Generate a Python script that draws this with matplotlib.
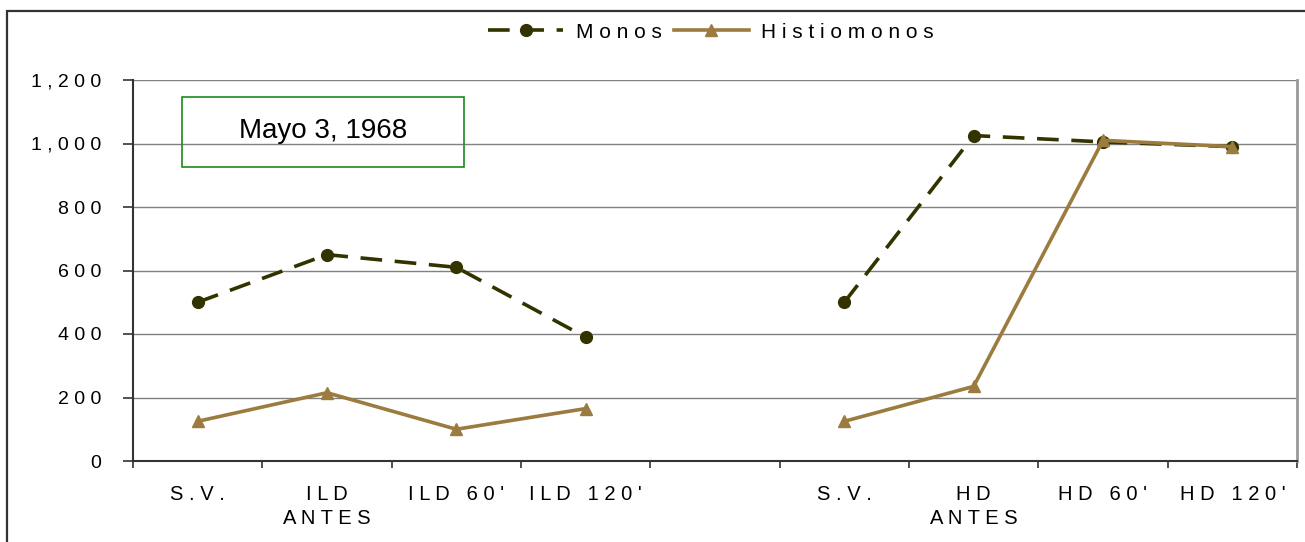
import numpy as np
import matplotlib
matplotlib.use("Agg")
import matplotlib.pyplot as plt
from matplotlib.ticker import FuncFormatter, FixedLocator
from matplotlib.patches import Rectangle

categories = ["S.V.", "ILD\nANTES", "ILD 60'", "ILD 120'", "",
              "S.V.", "HD\nANTES", "HD 60'", "HD 120'"]
monos = [500, 650, 610, 390, np.nan, 500, 1025, 1005, 990]
histiomonos = [125, 215, 100, 165, np.nan, 125, 235, 1010, 990]
series_names = ["Monos", "Histiomonos"]
annotation = "Mayo 3, 1968"
yticks = [0, 200, 400, 600, 800, 1000, 1200]

plt.rcParams['font.family'] = ['Liberation Sans', 'DejaVu Sans']


def spaced(s):
    return "\n".join(" ".join(list(line)) for line in s.split("\n"))


fig = plt.figure(figsize=(13.05, 5.42), dpi=100)
ax = fig.add_axes([133/1305, 1-461/542, (1297-133)/1305, (461-80)/542])

x = np.arange(len(categories))
c_monos = "#333300"
c_hist = "#9c7b3e"

ax.plot(x, monos, color=c_monos, lw=2.6, ls=(0, (6, 3.5)), marker='o',
        markersize=8.5, markerfacecolor=c_monos, markeredgecolor=c_monos,
        label=spaced(series_names[0]), zorder=3)
ax.plot(x, histiomonos, color=c_hist, lw=2.6, ls='-', marker='^',
        markersize=8.5, markerfacecolor=c_hist, markeredgecolor=c_hist,
        label=spaced(series_names[1]), zorder=4)

ax.set_xlim(-0.5, len(categories) - 0.5)
ax.set_ylim(0, 1200)
ax.set_yticks(yticks)
ax.yaxis.set_major_formatter(FuncFormatter(lambda v, p: spaced(f"{int(v):,}")))
ax.grid(axis='y', color='#808080', lw=1.0)
ax.set_axisbelow(True)

ax.xaxis.set_major_locator(FixedLocator(np.arange(-0.5, len(categories), 1.0)))
ax.xaxis.set_major_formatter(FuncFormatter(lambda v, p: ""))
ax.xaxis.set_minor_locator(FixedLocator(x))
ax.set_xticklabels([spaced(c) for c in categories], minor=True)
ax.tick_params(axis='x', which='major', length=5, width=1.2, color='#333333', direction='out')
ax.tick_params(axis='x', which='minor', length=0, pad=17, labelsize=14.5)
for t in ax.get_xticklabels(minor=True):
    t.set_linespacing(1.35)
    t.set_verticalalignment('top')
ax.tick_params(axis='y', length=7, width=1.2, color='#333333', pad=16, labelsize=14)

for s in ['left', 'bottom']:
    ax.spines[s].set_color('#333333')
    ax.spines[s].set_linewidth(1.5)
ax.spines['top'].set_visible(False)
ax.spines['right'].set_color('#999999')
ax.spines['right'].set_linewidth(2)

box = Rectangle((182/1305, 1-167/542), (464-182)/1305, (167-97)/542,
                transform=fig.transFigure, fill=False, ec='#1a8a1a', lw=1.2, zorder=5)
fig.patches.append(box)
fig.text((182+464)/2/1305, 1-131/542, annotation, fontsize=20, ha='center', va='center')

fig.legend(loc='center', bbox_to_anchor=(711/1305, 1-32/542), ncol=2, frameon=False,
           fontsize=15, handlelength=3.6, columnspacing=0.6, handletextpad=0.6)

frame = Rectangle((7/1305, -0.05), 1.05, 1-11/542+0.05, transform=fig.transFigure,
                  fill=False, ec='#333333', lw=1.6)
fig.patches.append(frame)

fig.savefig("out.png", dpi=100)
